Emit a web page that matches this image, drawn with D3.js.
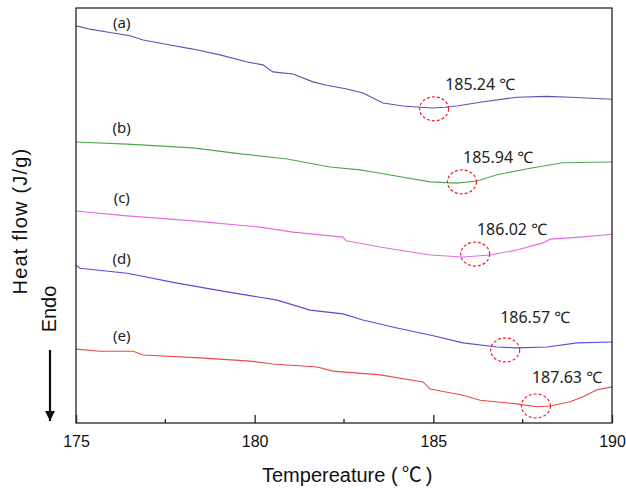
<!DOCTYPE html>
<html>
<head>
<meta charset="utf-8">
<script src="https://cdn.jsdelivr.net/npm/d3@7"></script>
<style>
  body { margin: 0; background: #fff; }
  svg { display: block; }
</style>
</head>
<body>
<div id="chart"></div>
<script>
// DSC curves, heat flow in arbitrary units (curves are offset for display)
const tempA = [175.0, 175.39, 175.95, 176.51, 176.88, 177.63, 178.27, 179.03, 179.79, 180.23, 180.51, 181.07, 181.63, 182.02, 182.58, 183.03, 183.59, 184.15, 184.63, 184.99, 185.33, 185.66, 186.31, 187.34, 188.18, 188.83, 190.0];
const flowA = [95.7, 94.9, 94.1, 93.3, 92.3, 91.1, 90.1, 88.7, 87.0, 86.3, 84.6, 84.1, 82.2, 81.4, 80.5, 79.5, 77.1, 76.4, 76.1, 75.9, 76.1, 76.4, 77.3, 78.5, 78.7, 78.5, 78.0];

const tempB = [175.0, 176.43, 178.27, 179.67, 180.91, 182.11, 182.95, 183.51, 184.91, 185.66, 186.22, 186.78, 187.71, 188.63, 190.0];
const flowB = [67.7, 67.2, 66.3, 64.8, 63.6, 61.7, 61.0, 60.2, 58.1, 57.8, 58.3, 59.8, 61.4, 62.7, 62.9];

const tempC = [175.0, 176.43, 178.27, 180.15, 181.07, 182.47, 182.56, 183.51, 184.91, 185.83, 186.59, 187.34, 188.07, 188.27, 189.11, 190.0];
const flowC = [51.1, 49.9, 48.7, 47.2, 46.0, 44.8, 43.9, 42.4, 40.5, 40.0, 40.5, 41.7, 43.4, 44.3, 44.8, 45.5];

const tempD = [175.0, 175.11, 176.43, 177.83, 179.23, 180.63, 181.55, 182.47, 183.03, 183.98, 184.91, 185.83, 186.78, 187.34, 188.18, 189.02, 190.0];
const flowD = [38.1, 37.3, 36.1, 33.7, 31.6, 29.6, 27.2, 26.3, 24.8, 22.9, 21.2, 19.3, 18.3, 18.1, 18.3, 19.3, 19.5];

const tempE = [175.0, 175.67, 176.6, 176.88, 178.47, 179.87, 180.51, 181.75, 182.19, 183.51, 184.71, 184.91, 185.83, 186.31, 187.34, 187.9, 188.27, 188.83, 189.19, 189.58, 190.0];
const flowE = [17.8, 17.3, 17.3, 16.4, 15.7, 14.9, 14.2, 13.5, 12.5, 11.6, 9.9, 8.2, 6.7, 5.5, 4.6, 3.9, 4.1, 5.1, 6.3, 8.0, 8.7];

const seriesNames = ['(a)', '(b)', '(c)', '(d)', '(e)'];
const seriesColors = ['#5656b0', '#4fa84f', '#e46ae4', '#5050dc', '#e84a4a'];
const nameFlow = [95.2, 69.9, 53.0, 38.3, 19.8];

// peak temperatures and the circled spots on each curve
const peakLabels = ['185.24 ℃', '185.94 ℃', '186.02 ℃', '186.57 ℃', '187.63 ℃'];
const markTemp = [185.02, 185.80, 186.17, 187.01, 187.87];
const markFlow = [75.7, 58.1, 40.7, 17.6, 4.1];
const peakTextTemp = [185.33, 185.83, 186.22, 186.87, 187.76];
const peakTextFlow = [80.2, 62.7, 45.3, 24.1, 9.6];

const xTicks = [175, 180, 185, 190];
const xMinorTicks = [177.5, 182.5, 187.5];

const W = 626, H = 489;
const margin = { top: 8, right: 14, bottom: 66, left: 76 };
const FONT = 'Liberation Sans, Arial, sans-serif';

const x = d3.scaleLinear().domain([175, 190]).range([margin.left, W - margin.right]);
const y = d3.scaleLinear().domain([0, 100]).range([H - margin.bottom, margin.top]);

const svg = d3.select('#chart').append('svg')
  .attr('width', W)
  .attr('height', H);

const curves = [
  [tempA, flowA], [tempB, flowB], [tempC, flowC], [tempD, flowD], [tempE, flowE]
].map(([t, f]) => t.map((d, i) => ({ t: d, f: f[i] })));

const line = d3.line()
  .x(d => x(d.t))
  .y(d => y(d.f));

svg.selectAll('.curve')
  .data(curves)
  .join('path')
  .attr('class', 'curve')
  .attr('d', line)
  .attr('fill', 'none')
  .attr('stroke', (d, i) => seriesColors[i])
  .attr('stroke-width', 1.1);

// frame
svg.append('rect')
  .attr('x', x(175))
  .attr('y', y(100))
  .attr('width', x(190) - x(175))
  .attr('height', y(0) - y(100))
  .attr('fill', 'none')
  .attr('stroke', '#222')
  .attr('stroke-width', 1.3);

// x axis, ticks pointing inward
const xAxis = svg.append('g')
  .attr('transform', `translate(0, ${y(0)})`)
  .call(d3.axisBottom(x).tickValues(xTicks).tickSize(-8).tickPadding(13).tickFormat(d3.format('d')));
xAxis.select('.domain').remove();
xAxis.selectAll('line').attr('stroke', '#222').attr('stroke-width', 1.3);
xAxis.selectAll('text')
  .attr('font-family', FONT)
  .attr('font-size', 16)
  .attr('fill', '#111');

svg.append('g')
  .selectAll('line')
  .data(xMinorTicks)
  .join('line')
  .attr('x1', d => x(d))
  .attr('x2', d => x(d))
  .attr('y1', y(0))
  .attr('y2', y(0) - 4)
  .attr('stroke', '#222')
  .attr('stroke-width', 1.3);

// axis titles
const xTitle = svg.append('text')
  .attr('x', 262)
  .attr('y', 482)
  .attr('font-family', FONT)
  .attr('font-size', 20)
  .attr('fill', '#111');
xTitle.append('tspan').text('Tempereature (');
xTitle.append('tspan').attr('dx', 4).attr('font-family', 'Noto Sans CJK KR, sans-serif').text('℃');
xTitle.append('tspan').attr('dx', 4).text(')');

svg.append('text')
  .attr('transform', 'translate(27, 221) rotate(-90)')
  .attr('text-anchor', 'middle')
  .attr('font-family', FONT)
  .attr('font-size', 20)
  .attr('letter-spacing', 1.2)
  .attr('fill', '#111')
  .text('Heat flow (J/g)');

svg.append('text')
  .attr('transform', 'translate(56, 309) rotate(-90)')
  .attr('text-anchor', 'middle')
  .attr('font-family', FONT)
  .attr('font-size', 20)
  .attr('fill', '#111')
  .text('Endo');

// endothermic arrow
svg.append('defs').append('marker')
  .attr('id', 'head')
  .attr('viewBox', '0 0 10 10')
  .attr('refX', 10)
  .attr('refY', 5)
  .attr('markerWidth', 4.5)
  .attr('markerHeight', 4.5)
  .attr('orient', 'auto')
  .append('path')
  .attr('d', 'M0,0 L10,5 L0,10 Z')
  .attr('fill', '#111');

svg.append('line')
  .attr('x1', 50).attr('x2', 50)
  .attr('y1', 350).attr('y2', 421)
  .attr('stroke', '#111')
  .attr('stroke-width', 2.2)
  .attr('marker-end', 'url(#head)');

// series names
svg.selectAll('.sname')
  .data(seriesNames)
  .join('text')
  .attr('class', 'sname')
  .attr('x', x(176.28))
  .attr('y', (d, i) => y(nameFlow[i]))
  .attr('text-anchor', 'middle')
  .attr('font-family', 'Noto Sans, sans-serif')
  .attr('font-size', 15)
  .attr('fill', '#222')
  .text(d => d);

// dashed circles on the peaks
svg.selectAll('.mark')
  .data(markTemp)
  .join('ellipse')
  .attr('class', 'mark')
  .attr('cx', d => x(d))
  .attr('cy', (d, i) => y(markFlow[i]))
  .attr('rx', 14.5)
  .attr('ry', 12)
  .attr('fill', 'none')
  .attr('stroke', '#e8202a')
  .attr('stroke-width', 1.2)
  .attr('stroke-dasharray', '3,2');

svg.selectAll('.peak')
  .data(peakLabels)
  .join('text')
  .attr('class', 'peak')
  .attr('x', (d, i) => x(peakTextTemp[i]))
  .attr('y', (d, i) => y(peakTextFlow[i]))
  .attr('font-family', 'Noto Sans, sans-serif')
  .attr('font-size', 16)
  .attr('fill', '#222')
  .text(d => d);
</script>
</body>
</html>
